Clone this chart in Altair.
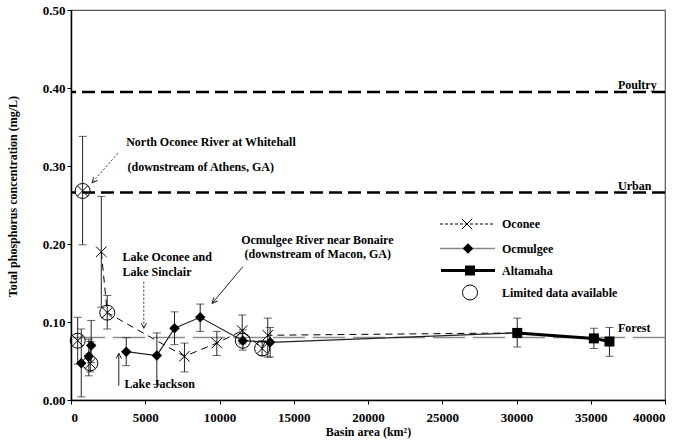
import altair as alt
import pandas as pd

FONT = "'Liberation Serif', 'Times New Roman', 'DejaVu Serif', serif"

# ---------------- data ----------------
# Oconee main-stem sites (connected by dashed line)
oconee_x = [2040, 2440, 7640, 9820, 11530, 12870, 13250]
oconee_y = [0.190, 0.112, 0.056, 0.073, 0.089, 0.066, 0.083]
oconee_lo = [0.119, 0.091, 0.036, 0.057, 0.072, 0.057, 0.055]
oconee_hi = [0.261, 0.134, 0.073, 0.088, 0.109, 0.076, 0.105]
# Oconee upstream sites (not connected)
oconee_up_x = [450, 780, 1300]
oconee_up_y = [0.076, 0.268, 0.047]
oconee_up_lo = [0.046, 0.199, 0.036]
oconee_up_hi = [0.106, 0.338, 0.075]

# Ocmulgee main-stem sites (connected by solid line)
ocm_x = [3720, 5780, 6970, 8700, 11570, 13410]
ocm_y = [0.062, 0.057, 0.092, 0.106, 0.076, 0.074]
ocm_lo = [0.044, 0.020, 0.071, 0.088, 0.064, 0.055]
ocm_hi = [0.080, 0.086, 0.113, 0.123, 0.090, 0.093]
# Ocmulgee upstream sites (not connected)
ocm_up_x = [690, 1200, 1360]
ocm_up_y = [0.047, 0.056, 0.070]
ocm_up_lo = [0.004, 0.031, 0.048]
ocm_up_hi = [0.091, 0.078, 0.102]

# Altamaha
alta_x = [30050, 35210, 36260]
alta_y = [0.086, 0.079, 0.075]
alta_lo = [0.068, 0.066, 0.056]
alta_hi = [0.105, 0.092, 0.093]

# sites with limited data (open circles)
limited_x = [450, 780, 1300, 2440, 11570, 12870]
limited_y = [0.076, 0.268, 0.047, 0.112, 0.076, 0.066]

# reference land-use levels
ref_names = ["Poultry", "Urban", "Forest"]
ref_values = [0.395, 0.266, 0.080]

x_ticks = [0, 5000, 10000, 15000, 20000, 25000, 30000, 35000, 40000]
y_ticks = [0.0, 0.1, 0.2, 0.3, 0.4, 0.5]

# annotation texts (anchored in data units)
note_text = ["North Oconee River at Whitehall", "(downstream of Athens, GA)",
             "Lake Oconee and", "Lake Sinclair",
             "Ocmulgee River near Bonaire", "(downstream of Macon, GA)",
             "Lake Jackson"]
note_x = [3717, 3805, 3468, 3468, 11461, 11684, 3603]
note_y = [0.3312, 0.299, 0.1837, 0.1645, 0.2051, 0.1868, 0.0205]

# arrows: tail -> tip (data units), dotted flag, head angle
arrow_x = [3152, 4902, 11569, 3219]
arrow_y = [0.3163, 0.1517, 0.1709, 0.0183]
arrow_x2 = [1420, 4902, 9508, 3219]
arrow_y2 = [0.2786, 0.0919, 0.1240, 0.0599]
arrow_dotted = [True, True, False, False]
arrow_angle = [222, 180, 220, 0]

legend_labels = ["Oconee", "Ocmulgee", "Altamaha", "Limited data available"]

# ---------------- tables ----------------
def frame(series, xs, ys, los, his):
    return pd.DataFrame({"series": series, "x": xs, "y": ys, "lo": los, "hi": his})

pts = pd.concat([
    frame("Oconee", oconee_x + oconee_up_x, oconee_y + oconee_up_y,
          oconee_lo + oconee_up_lo, oconee_hi + oconee_up_hi),
    frame("Ocmulgee", ocm_x + ocm_up_x, ocm_y + ocm_up_y,
          ocm_lo + ocm_up_lo, ocm_hi + ocm_up_hi),
    frame("Altamaha", alta_x, alta_y, alta_lo, alta_hi),
], ignore_index=True)

oconee_line = pd.DataFrame({"x": oconee_x + [alta_x[0]], "y": oconee_y + [alta_y[0]]})
ocm_line = pd.DataFrame({"x": ocm_x + [alta_x[0]], "y": ocm_y + [alta_y[0]]})
alta_line = pd.DataFrame({"x": alta_x, "y": alta_y})
limited = pd.DataFrame({"x": limited_x, "y": limited_y})
refs = pd.DataFrame({"name": ref_names, "value": ref_values})
notes = pd.DataFrame({"text": note_text, "x": note_x, "y": note_y})
arrows = pd.DataFrame({"x": arrow_x, "y": arrow_y, "x2": arrow_x2, "y2": arrow_y2,
                       "dotted": arrow_dotted, "angle": arrow_angle})

xs = alt.Scale(domain=[0, 40000], nice=False, zero=False)
ys = alt.Scale(domain=[0, 0.5], nice=False, zero=False)

x_axis = alt.Axis(
    values=x_ticks, format="d", title="Basin area (km²)", grid=False,
    tickSize=4, labelPadding=7, domainWidth=1.5, domainColor="black",
    tickColor="black", labelFont=FONT, labelFontSize=13, labelFontWeight="bold",
    labelColor="black", titleFont=FONT, titleFontSize=12, titleFontWeight="bold",
    titleColor="black", titleBaseline="alphabetic", titleY=35)
y_axis = alt.Axis(
    values=y_ticks, format=".2f", title="Total phosphorus concentration (mg/L)",
    grid=False, tickSize=4, labelPadding=2, domainWidth=1.5, domainColor="black",
    tickColor="black", labelFont=FONT, labelFontSize=13, labelFontWeight="bold",
    labelColor="black", titleFont=FONT, titleFontSize=12, titleFontWeight="bold",
    titleColor="black", titleX=-52, titleY=186)


def qx(field):
    return alt.X(field, type="quantitative", scale=xs, axis=x_axis)


def qy(field):
    return alt.Y(field, type="quantitative", scale=ys, axis=y_axis)


def py(field):
    return alt.Y(field, type="quantitative", scale=None, axis=None)


X_PATH = "M-1,-1L1,1M-1,1L1,-1"
HEAD_PATH = "M-0.5,1L0,0L0.5,1"
TXT = dict(font=FONT, fontSize=12, fontWeight="bold", color="black")

# reference levels
forest_ref = alt.Chart(refs).transform_filter("datum.name == 'Forest'").mark_rule(
    color="#8c8c8c", strokeWidth=1.5, strokeDash=[32, 8]).encode(y=qy("value"))
dashed_refs = alt.Chart(refs).transform_filter("datum.name != 'Forest'").mark_rule(
    color="black", strokeWidth=2.5, strokeDash=[13, 6]).encode(y=qy("value"))
ref_text_pu = alt.Chart(refs).transform_filter("datum.name != 'Forest'").mark_text(
    align="left", baseline="alphabetic", dy=-3, **TXT).encode(
    x=alt.value(547), y=qy("value"), text="name:N")
ref_text_f = alt.Chart(refs).transform_filter("datum.name == 'Forest'").mark_text(
    align="left", baseline="alphabetic", dy=-6, **TXT).encode(
    x=alt.value(547), y=qy("value"), text="name:N")

# error bars
err = alt.Chart(pts).mark_rule(color="#222", strokeWidth=1).encode(
    x=qx("x"), y=qy("lo"), y2="hi:Q")
cap_lo = alt.Chart(pts).mark_tick(orient="horizontal", size=8, thickness=1,
                                  color="#222").encode(x=qx("x"), y=qy("lo"))
cap_hi = alt.Chart(pts).mark_tick(orient="horizontal", size=8, thickness=1,
                                  color="#222").encode(x=qx("x"), y=qy("hi"))

# series lines
l_oconee = alt.Chart(oconee_line).mark_line(color="black", strokeWidth=1,
                                            strokeDash=[7, 5]).encode(x=qx("x"), y=qy("y"))
l_ocm = alt.Chart(ocm_line).mark_line(color="#222", strokeWidth=1.2).encode(
    x=qx("x"), y=qy("y"))
l_alta = alt.Chart(alta_line).mark_line(color="black", strokeWidth=3).encode(
    x=qx("x"), y=qy("y"))

# markers
m_oconee = alt.Chart(pts).transform_filter("datum.series == 'Oconee'").mark_point(
    shape=X_PATH, filled=False, size=110, stroke="black", strokeWidth=1,
    opacity=1).encode(x=qx("x"), y=qy("y"))
m_ocm = alt.Chart(pts).transform_filter("datum.series == 'Ocmulgee'").mark_point(
    shape="diamond", filled=True, size=110, color="black", opacity=1).encode(
    x=qx("x"), y=qy("y"))
m_alta = alt.Chart(pts).transform_filter("datum.series == 'Altamaha'").mark_point(
    shape="square", filled=True, size=100, color="black", opacity=1).encode(
    x=qx("x"), y=qy("y"))
m_lim = alt.Chart(limited).mark_point(shape="circle", filled=False, size=225,
                                      stroke="black", strokeWidth=1, opacity=1).encode(
    x=qx("x"), y=qy("y"))

# annotations
t_notes = alt.Chart(notes).mark_text(align="left", baseline="middle", **TXT).encode(
    x=qx("x"), y=qy("y"), text="text:N")
a_dotted = alt.Chart(arrows).transform_filter("datum.dotted").mark_rule(
    color="#333", strokeWidth=1, strokeDash=[2, 2]).encode(
    x=qx("x"), y=qy("y"), x2="x2:Q", y2="y2:Q")
a_solid = alt.Chart(arrows).transform_filter("!datum.dotted").mark_rule(
    color="#222", strokeWidth=1).encode(x=qx("x"), y=qy("y"), x2="x2:Q", y2="y2:Q")
a_heads = alt.Chart(arrows).mark_point(shape=HEAD_PATH, filled=False, size=110,
                                       stroke="#222", strokeWidth=1, opacity=1).encode(
    x=qx("x2"), y=qy("y2"), angle=alt.Angle("angle:Q", scale=None))

# legend (layout in pixels inside the plot area)
leg = pd.DataFrame({"label": legend_labels, "py": [214, 238.5, 260.5, 282.5]})
leg_text = alt.Chart(leg).mark_text(align="left", baseline="middle", **TXT).encode(
    x=alt.value(431), y=py("py"), text="label:N")
lg_oc_line = alt.Chart(leg).transform_filter("datum.label == 'Oconee'").mark_rule(
    color="black", strokeWidth=1, strokeDash=[3, 2]).encode(
    x=alt.value(369), x2=alt.value(423), y=py("py"))
lg_oc_pt = alt.Chart(leg).transform_filter("datum.label == 'Oconee'").mark_point(
    shape=X_PATH, filled=False, size=110, stroke="black", strokeWidth=1, opacity=1).encode(
    x=alt.value(396), y=py("py"))
lg_om_line = alt.Chart(leg).transform_filter("datum.label == 'Ocmulgee'").mark_rule(
    color="#888", strokeWidth=1.5).encode(
    x=alt.value(369), x2=alt.value(424), y=py("py"))
lg_om_pt = alt.Chart(leg).transform_filter("datum.label == 'Ocmulgee'").mark_point(
    shape="diamond", filled=True, size=110, color="black", opacity=1).encode(
    x=alt.value(397), y=py("py"))
lg_al_line = alt.Chart(leg).transform_filter("datum.label == 'Altamaha'").mark_rule(
    color="black", strokeWidth=3).encode(
    x=alt.value(370), x2=alt.value(424), y=py("py"))
lg_al_pt = alt.Chart(leg).transform_filter("datum.label == 'Altamaha'").mark_point(
    shape="square", filled=True, size=100, color="black", opacity=1).encode(
    x=alt.value(399), y=py("py"))
lg_lim_pt = alt.Chart(leg).transform_filter("datum.label == 'Limited data available'").mark_point(
    shape="circle", filled=False, size=225, stroke="black", strokeWidth=1, opacity=1).encode(
    x=alt.value(399), y=py("py"))

chart = alt.layer(
    forest_ref, dashed_refs, ref_text_pu, ref_text_f,
    err, cap_lo, cap_hi,
    l_oconee, l_ocm, l_alta,
    m_oconee, m_ocm, m_alta, m_lim,
    t_notes, a_dotted, a_solid, a_heads,
    lg_oc_line, lg_oc_pt, lg_om_line, lg_om_pt, lg_al_line, lg_al_pt, lg_lim_pt, leg_text,
).properties(
    width=594, height=390,
    autosize=alt.AutoSizeParams(type="none"),
    padding={"left": 71, "top": 10, "right": 15, "bottom": 40},
    background="white",
).configure_view(stroke="#555", strokeWidth=1.2)

chart.save("out.html", embed_options={"renderer": "svg", "actions": False})
